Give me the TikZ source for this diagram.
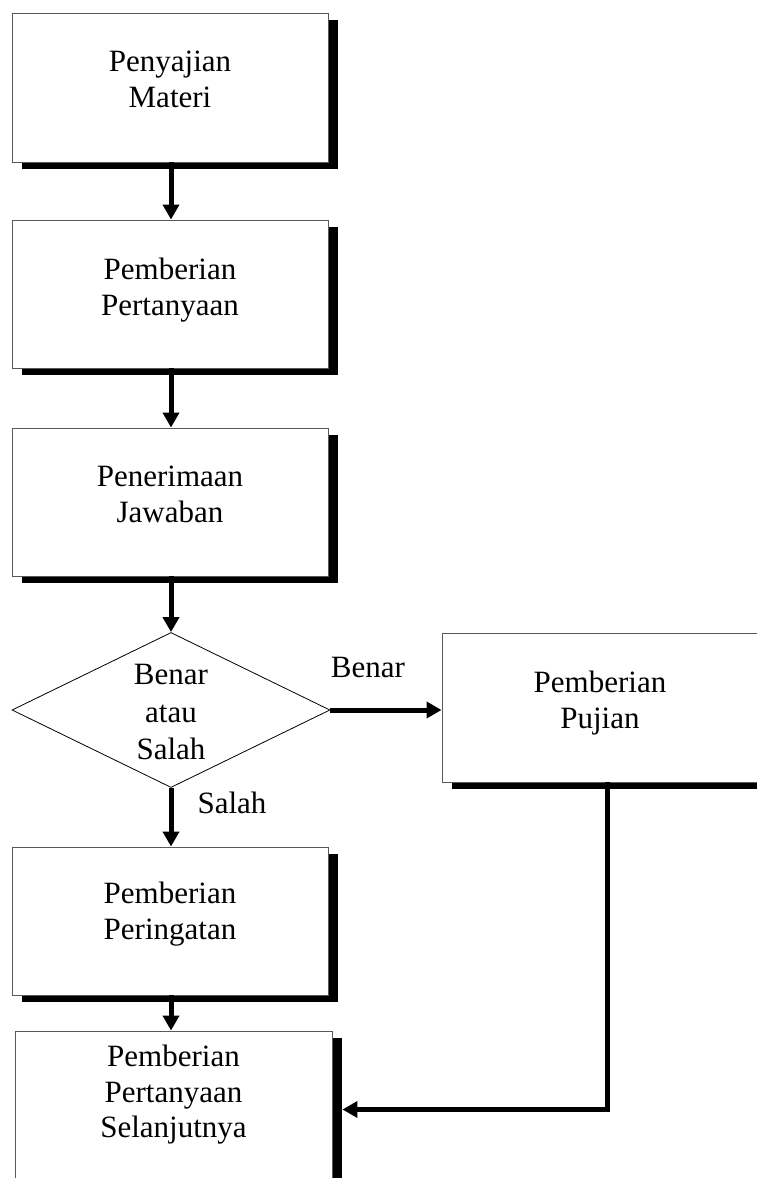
\documentclass[tikz,border=0pt]{standalone}
\usepackage{fontspec}
\setmainfont{Liberation Serif}
\usetikzlibrary{shapes.geometric,arrows.meta,shadows,calc}
\begin{document}
\begin{tikzpicture}[x=1pt,y=-1pt,
  box/.style={draw=black!65, line width=0.9pt, fill=white,
    minimum width=316pt, minimum height=149pt, inner sep=0pt,
    drop shadow={shadow xshift=10pt, shadow yshift=-7pt, fill=black, opacity=1}},
  dec/.style={shape=diamond, draw=black, line width=0.8pt, fill=white,
    minimum width=318pt, minimum height=155pt, inner sep=0pt},
  txt/.style={font=\fontsize{31}{35.5}\selectfont, align=center, inner sep=0pt, anchor=north},
  lbl/.style={font=\fontsize{31}{35.5}\selectfont, inner sep=0pt, anchor=base},
  arr/.style={line width=5pt, -{Triangle[width=16pt,length=15pt]}}
]
\useasboundingbox (0,0) rectangle (757,1178);
\clip (0,0) rectangle (757,1178);

% boxes
\node[box] (b1) at (170,87.5) {};
\node[box, minimum height=148pt] (b2) at (170,294) {};
\node[box, minimum height=148pt] (b3) at (170,502) {};
\node[dec] (d) at (171,710) {};
\node[box] (pj) at (600,707.5) {};
\node[box, minimum height=148pt] (b5) at (170,921) {};
\node[box, minimum width=317pt] (b6) at (173.5,1105.5) {};

% texts
\node[txt] (t1) at (170,51) {Penyajian\\Materi};
\node[txt] (t2) at (170,258) {Pemberian\\Pertanyaan};
\node[txt] (t3) at (170,466) {Penerimaan\\Jawaban};
\node[txt, font=\fontsize{31}{37.5}\selectfont] (td) at (171,664) {Benar\\atau\\Salah};
\node[txt] (tp) at (600,671) {Pemberian\\Pujian};
\node[txt] (t5) at (170,882) {Pemberian\\Peringatan};
\node[txt] (t6) at (173.5,1045) {Pemberian\\Pertanyaan\\Selanjutnya};

% labels
\node[lbl] (lb) at (368,677) {Benar};
\node[lbl] (ls) at (232,813) {Salah};

% connectors
\draw[arr] ($(b1.south)+(1,0)$) -- ($(b2.north)+(1,0)$);
\draw[arr] ($(b2.south)+(1,0)$) -- ($(b3.north)+(1,0)$);
\draw[arr] ($(b3.south)+(1,0)$) -- (d.north);
\draw[arr] (d.east) -- (d.east -| pj.west);
\draw[arr] (d.south) -- ($(b5.north)+(1,0)$);
\draw[arr] ($(b5.south)+(1,0)$) -- ($(b6.north)+(-2.5,0)$);
\coordinate (pjout) at ($(pj.south)+(7,0)$);
\coordinate (b6in) at ($(b6.east)+(10,4)$);
\draw[arr] (pjout) |- (b6in);
\end{tikzpicture}
\end{document}
